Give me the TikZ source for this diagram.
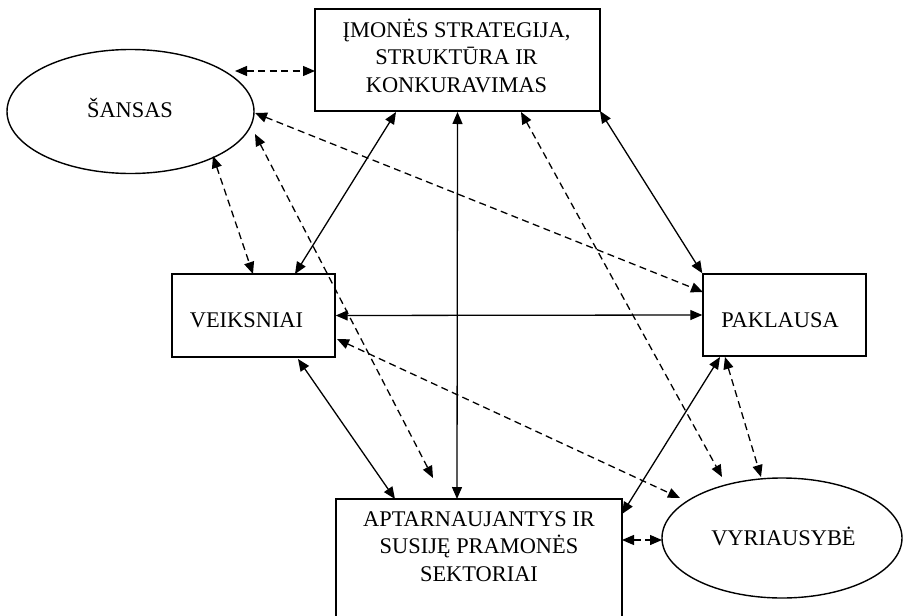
\documentclass[tikz,border=0pt]{standalone}
\usepackage{fontspec}
\setmainfont{Liberation Serif}
\usetikzlibrary{arrows.meta,shapes.geometric,calc}
\begin{document}
\begin{tikzpicture}[x=1pt,y=-1pt,
  box/.style={draw, line width=1.4pt, rectangle, inner sep=0pt},
  oval/.style={draw, line width=1.4pt, ellipse, inner sep=0pt},
  lbl/.style={inner sep=0pt, anchor=base, align=center,
    font=\fontsize{22.4}{27.5}\selectfont},
  link/.style={line width=1.3pt,
    {Triangle[length=12pt,width=10pt]}-{Triangle[length=12pt,width=10pt]}},
  solidlink/.style={link},
  dashlink/.style={link, dash pattern=on 7pt off 4.5pt},
]
\useasboundingbox (0,0) rectangle (903,616);

% the six factors
\node[box, minimum width=285pt, minimum height=102pt] (top) at (457.5,60) {};
\node[oval, minimum width=247pt, minimum height=124pt] (sansas) at (130.5,111.5) {};
\node[box, minimum width=163pt, minimum height=83pt] (veiks) at (253.5,315.5) {};
\node[box, minimum width=163pt, minimum height=82pt] (pakl) at (784.5,315) {};
\node[box, minimum width=286pt, minimum height=131pt] (apt) at (479,564.5) {};
\node[oval, minimum width=240pt, minimum height=120pt] (vyr) at (782,538) {};

% their texts (a multi-line text sits on the baseline of its last line)
\node[lbl] (ttxt) at (456.5,92) {ĮMONĖS STRATEGIJA,\\STRUKTŪRA IR\\KONKURAVIMAS};
\node[lbl] (stxt) at (130,117) {ŠANSAS};
\node[lbl] (vtxt) at (246.5,327) {VEIKSNIAI};
\node[lbl] (ptxt) at (780,327) {PAKLAUSA};
\node[lbl] (atxt) at (479,581) {APTARNAUJANTYS IR\\SUSIJĘ PRAMONĖS\\SEKTORIAI};
\node[lbl] (ytxt) at (783.5,545) {VYRIAUSYBĖ};

% free end of the long dashed link from ŠANSAS
\coordinate (aptfree) at ($(apt.center)+(-46,-86.5)$);

% solid links (the diamond)
\draw[solidlink] ($(top.center)+(-61.5,52)$) -- ($(veiks.center)+(41.5,-41.5)$);
\draw[solidlink] ($(top.center)+(0,52)$) -- ($(apt.center)+(-22,-65.5)$);
\draw[solidlink] ($(top.center)+(142.5,51)$) -- (pakl.north west);
\draw[solidlink] (veiks.east) -- (pakl.west);
\draw[solidlink] ($(veiks.center)+(44.5,43.5)$) -- ($(apt.center)+(-84,-65.5)$);
\draw[solidlink] ($(pakl.center)+(-64.5,42)$) -- ($(apt.center)+(143,-50.5)$);

% dashed links (chance and government)
\draw[dashlink] ($(sansas.center)+(104.5,-40.5)$) -- ($(top.center)+(-142.5,11)$);
\draw[dashlink] ($(sansas.center)+(124.5,1.5)$) -- ($(pakl.center)+(-81.5,-23)$);
\draw[dashlink] ($(sansas.center)+(82.5,44.5)$) -- ($(veiks.center)+(-0.5,-41.5)$);
\draw[dashlink] ($(sansas.center)+(124.5,22.5)$) -- (aptfree);
\draw[dashlink] ($(top.center)+(63.5,52)$) -- ($(vyr.center)+(-60,-61)$);
\draw[dashlink] ($(veiks.center)+(83.5,23.5)$) -- ($(vyr.center)+(-102,-40)$);
\draw[dashlink] ($(pakl.center)+(-59.5,42)$) -- ($(vyr.center)+(-21,-61)$);
\draw[dashlink] ($(apt.center)+(143,-24.5)$) -- ($(vyr.center)+(-120,2)$);
\end{tikzpicture}
\end{document}
